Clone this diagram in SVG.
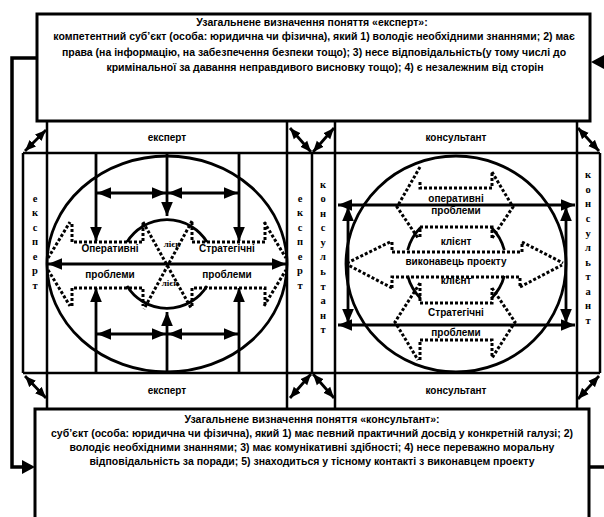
<svg xmlns="http://www.w3.org/2000/svg" width="604" height="517" viewBox="0 0 604 517">
<defs>
<marker id="ah" viewBox="0 0 12 10" refX="12" refY="5" markerWidth="14" markerHeight="12" markerUnits="userSpaceOnUse" orient="auto-start-reverse"><path d="M0,0 L12,5 L0,10 z" fill="#000"/></marker>
<marker id="as" viewBox="0 0 12 10" refX="12" refY="5" markerWidth="11" markerHeight="10" markerUnits="userSpaceOnUse" orient="auto-start-reverse"><path d="M0,0 L12,5 L0,10 z" fill="#000"/></marker>
<style>
.box{fill:#fff;stroke:#000;stroke-width:3}
.ln{fill:none;stroke:#000;stroke-width:2.5}
.ar{fill:none;stroke:#000;stroke-width:2.8}
.dot{fill:none;stroke:#000;stroke-width:3;stroke-dasharray:3 2}
.t{font-family:"Liberation Sans",Arial,sans-serif;font-weight:bold;font-size:10.5px;text-anchor:middle;fill:#000}
.s{font-family:"Liberation Sans",Arial,sans-serif;font-weight:bold;font-size:10px;text-anchor:middle;fill:#000}
.v{font-family:"Liberation Serif","Times New Roman",serif;font-weight:bold;font-size:10.5px;text-anchor:middle;fill:#000}
.sm{font-family:"Liberation Serif",serif;font-weight:bold;font-size:9px;text-anchor:middle;fill:#000}
</style>
</defs>
<rect width="604" height="517" fill="#fff"/>

<g id="top-box">
<rect class="box" x="37" y="14" width="553" height="107"/>
<text class="t" x="312" y="26">Узагальнене визначення поняття «експерт»:</text>
<text class="t" x="314" y="40">компетентний суб’єкт (особа: юридична чи фізична), який 1) володіє необхідними знаннями;  2) має</text>
<text class="t" x="314" y="56">права (на інформацію, на забезпечення безпеки тощо); 3) несе відповідальність(у тому числі  до</text>
<text class="t" x="325" y="71">кримінальної за давання неправдивого висновку тощо); 4) є незалежним від сторін</text>
</g>

<g id="bottom-box">
<path class="box" d="M35,530 L35,409 L589,409 L589,530"/>
<text class="t" x="312" y="423">Узагальнене визначення поняття «консультант»:</text>
<text class="t" x="312" y="437">суб’єкт (особа: юридична чи фізична), який 1) має певний практичний досвід у конкретній галузі;  2)</text>
<text class="t" x="312" y="451">володіє необхідними знаннями; 3) має комунікативні здібності; 4) несе переважно моральну</text>
<text class="t" x="312" y="465">відповідальність за поради; 5) знаходиться у тісному контакті з виконавцем проекту</text>
</g>

<g id="frame">
<path class="ln" d="M23,153 L600,153 M23,373 L600,373 M23,153 L23,373 M600,153 L600,373 M312,153 L312,373 M47,121 L47,409 M287,121 L287,409 M335,121 L335,409 M577,121 L577,409"/>
</g>

<g id="expert-header"><text class="s" x="167" y="141">експерт</text></g>
<g id="expert-footer"><text class="s" x="167" y="394">експерт</text></g>
<g id="consultant-header"><text class="s" x="456" y="141">консультант</text></g>
<g id="consultant-footer"><text class="s" x="456" y="394">консультант</text></g>

<g id="expert-left-strip">
<text class="v" x="35" y="202">е</text><text class="v" x="35" y="216">к</text><text class="v" x="35" y="231">с</text><text class="v" x="35" y="245">п</text><text class="v" x="35" y="260">е</text><text class="v" x="35" y="274">р</text><text class="v" x="35" y="289">т</text>
</g>
<g id="expert-right-strip">
<text class="v" x="300" y="202">е</text><text class="v" x="300" y="216">к</text><text class="v" x="300" y="231">с</text><text class="v" x="300" y="245">п</text><text class="v" x="300" y="260">е</text><text class="v" x="300" y="274">р</text><text class="v" x="300" y="289">т</text>
</g>
<g id="consultant-left-strip">
<text class="v" x="323" y="188">к</text><text class="v" x="323" y="202">о</text><text class="v" x="323" y="217">н</text><text class="v" x="323" y="231">с</text><text class="v" x="323" y="246">у</text><text class="v" x="323" y="260">л</text><text class="v" x="323" y="275">ь</text><text class="v" x="323" y="290">т</text><text class="v" x="323" y="304">а</text><text class="v" x="323" y="319">н</text><text class="v" x="323" y="333">т</text>
</g>
<g id="consultant-right-strip">
<text class="v" x="588" y="178">к</text><text class="v" x="588" y="193">о</text><text class="v" x="588" y="207">н</text><text class="v" x="588" y="222">с</text><text class="v" x="588" y="237">у</text><text class="v" x="588" y="251">л</text><text class="v" x="588" y="266">ь</text><text class="v" x="588" y="280">т</text><text class="v" x="588" y="295">а</text><text class="v" x="588" y="309">н</text><text class="v" x="588" y="324">т</text>
</g>

<g id="expert-body">
<ellipse class="ar" cx="167" cy="264" rx="120" ry="108"/>
<path class="ar" d="M127,242 A47,47 0 0 1 207,242 M127,286 A47,47 0 0 0 207,286"/>
<path class="dot" d="M48,258 L70,222 M72,224 L72,242 L143,242 L143,222 M192,222 L192,242 L265,242 L265,222 M264,222 L286,258 M143,222 L191,308 M192,221 L144,309 M48,270 L70,306 M72,306 L72,288 L143,288 L143,306 M192,306 L192,288 L265,288 L265,306 M264,306 L286,270"/>
<text class="s" x="110" y="252">Оперативні</text>
<text class="s" x="227" y="252">Стратегічні</text>
<text class="s" x="110" y="278">проблеми</text>
<text class="s" x="227" y="278">проблеми</text>
<text class="sm" x="172" y="247">лієн</text>
<text class="sm" x="170" y="286">лієн</text>
</g>

<g id="consultant-body">
<ellipse class="ar" cx="456" cy="264" rx="110" ry="108"/>
<path class="ar" d="M407.7,250 A50,50 0 0 1 420.6,227.6 M491.4,227.6 A50,50 0 0 1 504.3,250 M407.7,275.9 A50,50 0 0 0 420.6,298.4 M504.3,275.9 A50,50 0 0 1 491.4,298.4"/>
<path class="dot" d="M420,167 L397,207 L418,238 M492,172 L513,207 L492,238 M420,182 L420,188 L492,188 L492,172 M420,237 L420,227 L492,227 L492,238 M392,242 L392,252 L522,252 L522,242 M390,242 L347,263 M522,242 L563,263 M392,288 L392,277 L520,277 L520,288 M392,288 L348,265 M520,287 L562,265 M420,283 L420,303 L492,303 L492,288 M420,283 L395,322 L418,360 M492,288 L515,322 L492,358 M420,360 L420,340 L492,340 L492,357"/>
<text class="s" x="456" y="202">оперативні</text>
<text class="s" x="456" y="214">проблеми</text>
<text class="s" x="456" y="245">клієнт</text>
<text class="s" x="456" y="265">виконавець проекту</text>
<text class="s" x="456" y="284">клієнт</text>
<text class="s" x="456" y="316">Стратегічні</text>
<text class="s" x="456" y="336">проблеми</text>
</g>

<g id="connectors">
<path class="ar" d="M96,153 L96,241" marker-end="url(#ah)"/>
<path class="ar" d="M167,153 L167,216" marker-end="url(#ah)"/>
<path class="ar" d="M239,153 L239,241" marker-end="url(#ah)"/>
<path class="ar" d="M96,373 L96,288" marker-end="url(#ah)"/>
<path class="ar" d="M167,373 L167,312" marker-end="url(#ah)"/>
<path class="ar" d="M239,373 L239,288" marker-end="url(#ah)"/>
<path class="ar" d="M97,193 L166,193" marker-start="url(#ah)" marker-end="url(#ah)"/>
<path class="ar" d="M168,193 L238,193" marker-start="url(#ah)" marker-end="url(#ah)"/>
<path class="ar" d="M97,334 L166,334" marker-start="url(#ah)" marker-end="url(#ah)"/>
<path class="ar" d="M168,334 L238,334" marker-start="url(#ah)" marker-end="url(#ah)"/>
<path class="ar" d="M48,264 L286,264" marker-start="url(#ah)" marker-end="url(#ah)"/>
<path class="ar" d="M338,205 L575,205" marker-start="url(#ah)" marker-end="url(#ah)"/>
<path class="ar" d="M338,325 L575,325" marker-start="url(#ah)" marker-end="url(#ah)"/>
<path class="ar" d="M348,207 L348,323" marker-start="url(#ah)" marker-end="url(#ah)"/>
<path class="ar" d="M566,207 L566,323" marker-start="url(#ah)" marker-end="url(#ah)"/>
<path class="ar" d="M25,151 L46,130" marker-start="url(#as)" marker-end="url(#as)"/>
<path class="ar" d="M311,152 L290,128" marker-start="url(#as)" marker-end="url(#as)"/>
<path class="ar" d="M313,152 L334,128" marker-start="url(#as)" marker-end="url(#as)"/>
<path class="ar" d="M578,128 L599,151" marker-start="url(#as)" marker-end="url(#as)"/>
<path class="ar" d="M25,376 L46,398" marker-start="url(#as)" marker-end="url(#as)"/>
<path class="ar" d="M311,374 L290,398" marker-start="url(#as)" marker-end="url(#as)"/>
<path class="ar" d="M313,374 L334,398" marker-start="url(#as)" marker-end="url(#as)"/>
<path class="ar" d="M578,399 L599,376" marker-start="url(#as)" marker-end="url(#as)"/>
<path fill="none" stroke="#000" stroke-width="3.5" d="M37,58 L12,58 L12,467 L24,467"/>
<path d="M35,467 L22,460 L22,474 z" fill="#000"/>
<path fill="none" stroke="#000" stroke-width="3.5" d="M589,467 L604,467"/>
<path d="M591,62 L604,55 L604,69 z" fill="#000"/>
</g>
</svg>
